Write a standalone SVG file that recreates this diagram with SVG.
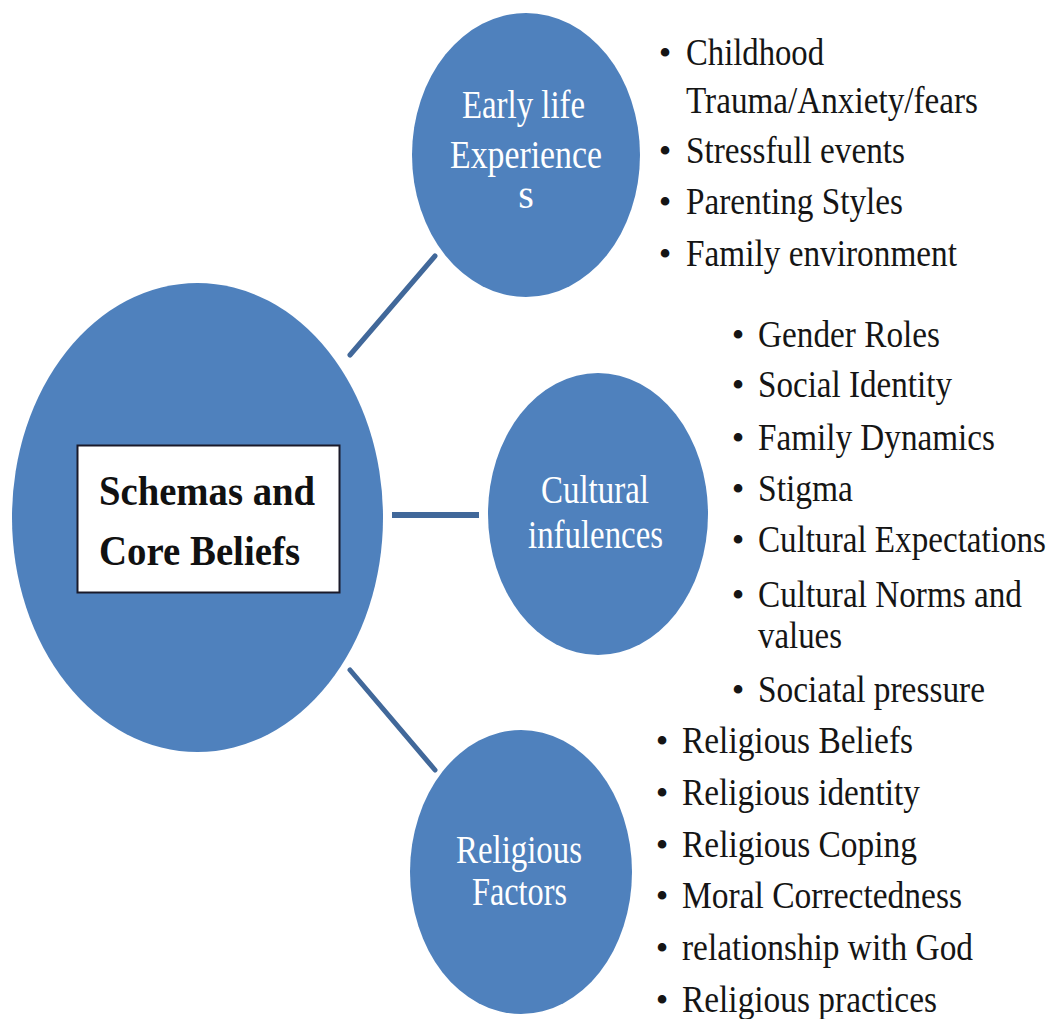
<svg xmlns="http://www.w3.org/2000/svg" width="1055" height="1019" viewBox="0 0 1055 1019">
  <style>
    .bubble { fill: #4f81bd; }
    .link { stroke: #41689a; stroke-width: 5; stroke-linecap: round; fill: none; }
    .label { font-family: "Liberation Serif", "Times New Roman", serif; fill: #ffffff; text-anchor: middle; }
    .core { font-family: "Liberation Serif", "Times New Roman", serif; font-weight: bold; font-size: 43px; fill: #111111; }
    .item { font-family: "Liberation Serif", "Times New Roman", serif; font-size: 38px; fill: #151515; }
    .dot { font-family: "Liberation Serif", "Times New Roman", serif; font-size: 36px; fill: #151515; text-anchor: middle; }
  </style>
  <rect width="1055" height="1019" fill="#ffffff"/>

  <!-- spokes from the core circle to the three factor circles -->
  <g id="connectors">
    <line class="link" x1="350" y1="355" x2="435" y2="256"/>
    <line class="link" x1="392" y1="515" x2="479" y2="515" style="stroke-linecap:butt;stroke-width:6"/>
    <line class="link" x1="350" y1="670" x2="435" y2="770"/>
  </g>

  <!-- core circle with the boxed title -->
  <g id="core">
    <ellipse class="bubble" cx="197.5" cy="517.5" rx="185.5" ry="234.5"/>
    <rect x="77.5" y="445.5" width="262" height="147" fill="#ffffff" stroke="#1a1a2a" stroke-width="2"/>
    <text class="core" x="99" y="505" textLength="216" lengthAdjust="spacingAndGlyphs">Schemas and</text>
    <text class="core" x="99" y="565" textLength="201" lengthAdjust="spacingAndGlyphs">Core Beliefs</text>
  </g>

  <g id="early-life">
    <ellipse class="bubble" cx="526" cy="155" rx="114" ry="142"/>
    <text class="label" font-size="41" x="523.5" y="118" textLength="123" lengthAdjust="spacingAndGlyphs">Early life</text>
    <text class="label" font-size="41" x="526" y="168" textLength="152" lengthAdjust="spacingAndGlyphs">Experience</text>
    <text class="label" font-size="40" x="526" y="208">s</text>
  </g>

  <g id="cultural">
    <ellipse class="bubble" cx="598" cy="514" rx="110" ry="141"/>
    <text class="label" font-size="39" x="595" y="503" textLength="108" lengthAdjust="spacingAndGlyphs">Cultural</text>
    <text class="label" font-size="39" x="595.5" y="548" textLength="135" lengthAdjust="spacingAndGlyphs">infulences</text>
  </g>

  <g id="religious">
    <ellipse class="bubble" cx="521" cy="872" rx="111" ry="142"/>
    <text class="label" font-size="41" x="519" y="863" textLength="126" lengthAdjust="spacingAndGlyphs">Religious</text>
    <text class="label" font-size="41" x="519.5" y="905" textLength="95" lengthAdjust="spacingAndGlyphs">Factors</text>
  </g>

  <!-- bullet list: early life experiences -->
  <g id="early-life-list">
    <text class="dot" x="665" y="65">•</text>
    <text class="item" x="686" y="65" textLength="138" lengthAdjust="spacingAndGlyphs">Childhood</text>
    <text class="item" x="686" y="113" textLength="292" lengthAdjust="spacingAndGlyphs">Trauma/Anxiety/fears</text>
    <text class="dot" x="665" y="163">•</text>
    <text class="item" x="686" y="163" textLength="219" lengthAdjust="spacingAndGlyphs">Stressfull events</text>
    <text class="dot" x="665" y="214">•</text>
    <text class="item" x="686" y="214" textLength="217" lengthAdjust="spacingAndGlyphs">Parenting Styles</text>
    <text class="dot" x="665" y="266">•</text>
    <text class="item" x="686" y="266" textLength="271" lengthAdjust="spacingAndGlyphs">Family environment</text>
  </g>

  <!-- bullet list: cultural influences -->
  <g id="cultural-list">
    <text class="dot" x="738" y="347">•</text>
    <text class="item" x="758" y="347" textLength="182" lengthAdjust="spacingAndGlyphs">Gender Roles</text>
    <text class="dot" x="738" y="397">•</text>
    <text class="item" x="758" y="397" textLength="194" lengthAdjust="spacingAndGlyphs">Social Identity</text>
    <text class="dot" x="738" y="450">•</text>
    <text class="item" x="758" y="450" textLength="237" lengthAdjust="spacingAndGlyphs">Family Dynamics</text>
    <text class="dot" x="738" y="501">•</text>
    <text class="item" x="758" y="501" textLength="95" lengthAdjust="spacingAndGlyphs">Stigma</text>
    <text class="dot" x="738" y="552">•</text>
    <text class="item" x="758" y="552" textLength="288" lengthAdjust="spacingAndGlyphs">Cultural Expectations</text>
    <text class="dot" x="738" y="607">•</text>
    <text class="item" x="758" y="607" textLength="264" lengthAdjust="spacingAndGlyphs">Cultural Norms and</text>
    <text class="item" x="758" y="648" textLength="84" lengthAdjust="spacingAndGlyphs">values</text>
    <text class="dot" x="738" y="702">•</text>
    <text class="item" x="758" y="702" textLength="227" lengthAdjust="spacingAndGlyphs">Sociatal pressure</text>
  </g>

  <!-- bullet list: religious factors -->
  <g id="religious-list">
    <text class="dot" x="662" y="753">•</text>
    <text class="item" x="682" y="753" textLength="231" lengthAdjust="spacingAndGlyphs">Religious Beliefs</text>
    <text class="dot" x="662" y="805">•</text>
    <text class="item" x="682" y="805" textLength="238" lengthAdjust="spacingAndGlyphs">Religious identity</text>
    <text class="dot" x="662" y="857">•</text>
    <text class="item" x="682" y="857" textLength="235" lengthAdjust="spacingAndGlyphs">Religious Coping</text>
    <text class="dot" x="662" y="908">•</text>
    <text class="item" x="682" y="908" textLength="280" lengthAdjust="spacingAndGlyphs">Moral Correctedness</text>
    <text class="dot" x="662" y="960">•</text>
    <text class="item" x="682" y="960" textLength="291" lengthAdjust="spacingAndGlyphs">relationship with God</text>
    <text class="dot" x="662" y="1012">•</text>
    <text class="item" x="682" y="1012" textLength="255" lengthAdjust="spacingAndGlyphs">Religious practices</text>
  </g>
</svg>
